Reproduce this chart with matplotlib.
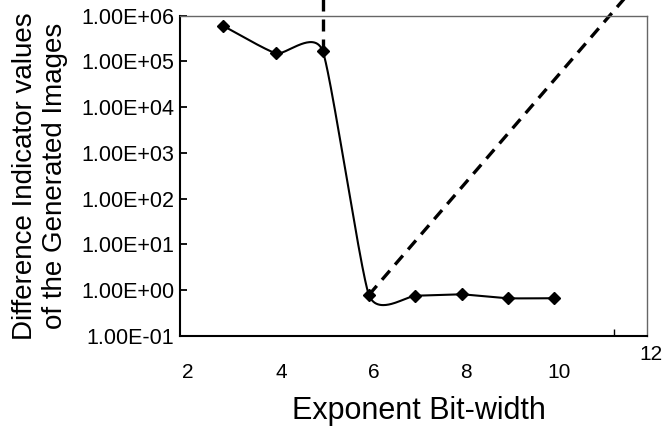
import numpy as np
import matplotlib.pyplot as plt
from matplotlib.ticker import NullLocator
from matplotlib.transforms import ScaledTranslation

plt.rcParams['font.family'] = ['Liberation Sans', 'DejaVu Sans']

# valors mesurats per a cada amplada d'exponent
bit_width = [2.85, 4, 5, 6, 7, 8, 9, 10]
diff_values = [6.0e5, 1.5e5, 1.7e5, 0.78, 0.75, 0.80, 0.66, 0.66]

x_ticks = [2, 4, 6, 8, 10, 12]
x_marks = [4, 6, 8, 11.3]
y_ticks = [1e-1, 1e0, 1e1, 1e2, 1e3, 1e4, 1e5, 1e6]
y_labels = ["1.00E-01", "1.00E+00", "1.00E+01", "1.00E+02",
            "1.00E+03", "1.00E+04", "1.00E+05", "1.00E+06"]

# línies discontínues que surten dels punts 5 i 6
guide_top = 1e7
guide_x_end = 12.05


# Corba suavitzada (Catmull-Rom amb tensió) en escala logarítmica
def SmoothCurve(xs, ys, tension=0.55, steps=60):
    px = np.array(xs, dtype=float)
    py = np.log10(np.array(ys, dtype=float))
    n = len(px)

    mx = np.zeros(n)
    my = np.zeros(n)
    for i in range(n):
        a = max(i - 1, 0)
        b = min(i + 1, n - 1)
        mx[i] = tension * (px[b] - px[a]) / (b - a) * (1 if b - a == 2 else 1) 
        my[i] = tension * (py[b] - py[a]) / (b - a)
    # la tangent del CR és (p[i+1]-p[i-1])/2, ja dividit per (b-a)

    out_x = []
    out_y = []
    t = np.linspace(0, 1, steps)
    h00 = 2 * t**3 - 3 * t**2 + 1
    h10 = t**3 - 2 * t**2 + t
    h01 = -2 * t**3 + 3 * t**2
    h11 = t**3 - t**2
    for i in range(n - 1):
        sx = h00 * px[i] + h10 * mx[i] + h01 * px[i + 1] + h11 * mx[i + 1]
        sy = h00 * py[i] + h10 * my[i] + h01 * py[i + 1] + h11 * my[i + 1]
        out_x.extend(sx)
        out_y.extend(sy)
    return np.array(out_x), 10 ** np.array(out_y)


fig = plt.figure(figsize=(6.71, 4.29), dpi=100)
ax = fig.add_axes([0.2683, 0.2175, 0.6955, 0.7459])

cx, cy = SmoothCurve(bit_width, diff_values)
ax.plot(cx, cy, color="black", linewidth=1.5, zorder=3)
ax.plot(bit_width, diff_values, linestyle="none", marker="D", markersize=6,
        color="black", zorder=4)

# guies discontínues
ax.plot([bit_width[2], bit_width[2]], [diff_values[2], guide_top],
        color="black", linewidth=2.4, dashes=(3.6, 2.4), clip_on=False, zorder=2)
ax.plot([bit_width[3], guide_x_end], [diff_values[3], guide_top],
        color="black", linewidth=2.4, dashes=(3.6, 2.4), clip_on=False, zorder=2)

ax.set_yscale("log")
ax.set_ylim(1e-1, 1e6)
ax.set_xlim(1.92, 11.92)
ax.set_yticks(y_ticks, labels=y_labels)
ax.yaxis.set_minor_locator(NullLocator())

ax.set_xticks(x_ticks, labels=[str(v) for v in x_ticks])
ax.set_xticks(x_marks, minor=True)

ax.tick_params(axis="y", which="major", direction="in", length=5, width=1.3,
               labelsize=15.5, pad=4)
ax.tick_params(axis="x", which="major", length=0, labelsize=15, pad=20)
ax.tick_params(axis="x", which="minor", direction="in", length=5, width=1.0)

# el 12 queda més amunt que la resta
ticks = ax.xaxis.get_major_ticks()
ticks[-1].set_pad(7)

for label in ax.get_xticklabels():
    label.set_transform(label.get_transform() + ScaledTranslation(0.045, 0, fig.dpi_scale_trans))

ax.spines["left"].set_linewidth(1.5)
ax.spines["bottom"].set_linewidth(1.5)
ax.spines["top"].set_linewidth(1.0)
ax.spines["right"].set_linewidth(1.0)
ax.spines["top"].set_color("#666666")
ax.spines["right"].set_color("#666666")

ax.set_xlabel("Exponent Bit-width", fontsize=22)
ax.xaxis.set_label_coords(0.511, -0.188)
ax.set_ylabel("Difference Indicator values\nof the Generated Images", fontsize=20,
              va="center", linespacing=1.2)
ax.yaxis.set_label_coords(-0.30, 0.5)

fig.savefig("out.png", dpi=100)
